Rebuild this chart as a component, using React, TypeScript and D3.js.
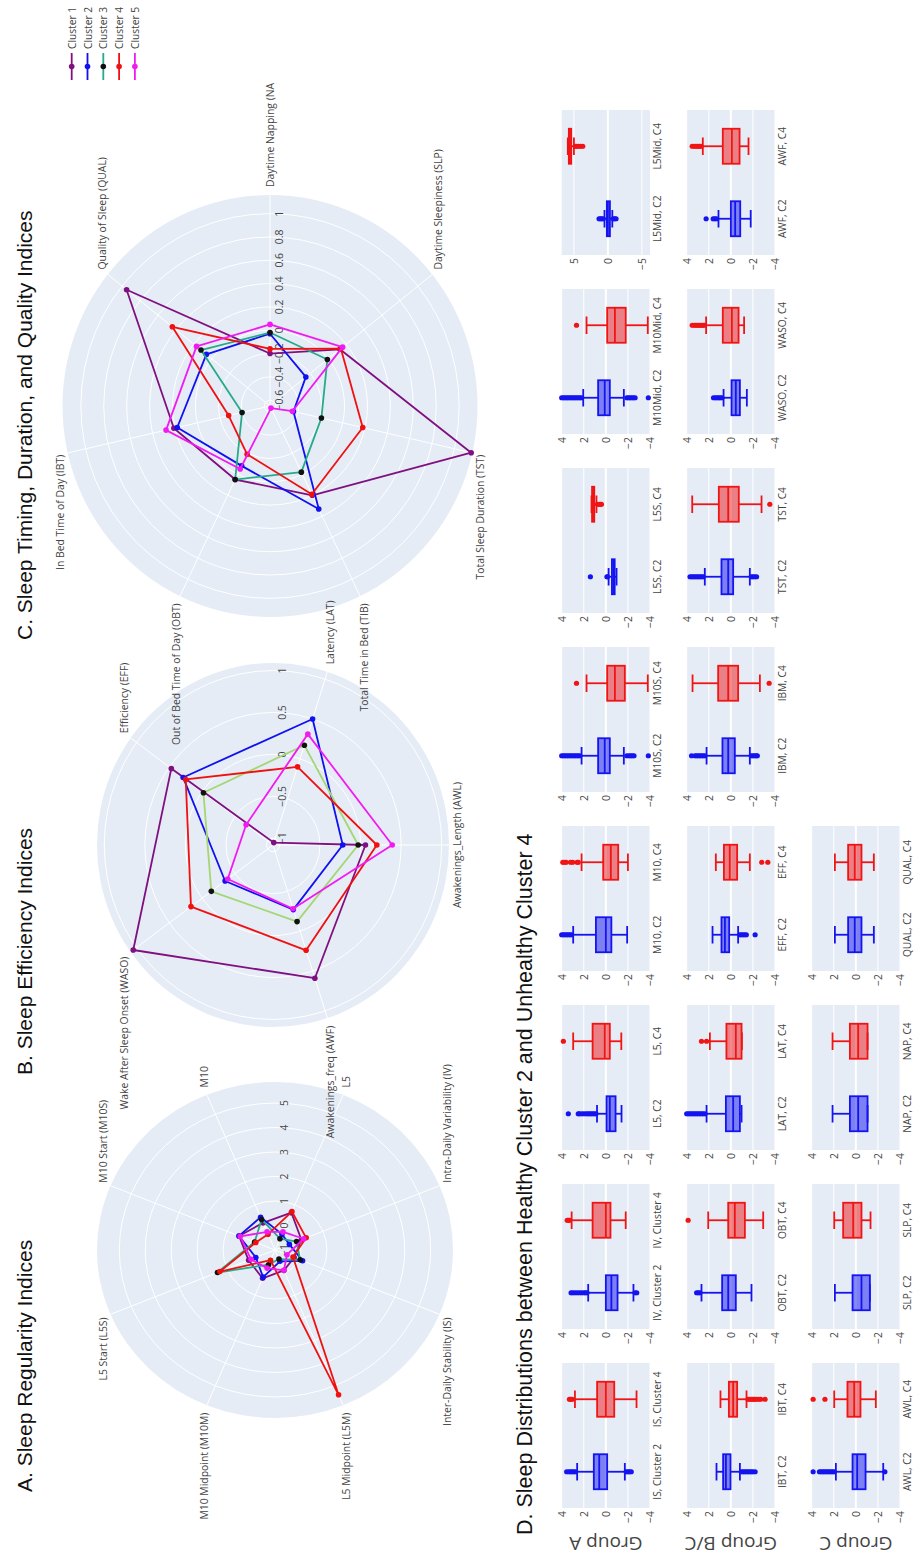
import React from "react";
import * as d3 from "d3";

// Page is portrait; the figure is laid out landscape and turned a quarter turn.
const PAGE_W = 915;
const PAGE_H = 1558;

const FONT = "'Open Sans', 'Noto Sans', sans-serif";
const TITLE_FONT = "'Liberation Sans', Arial, sans-serif";
const TEXT = "#444";
const PANEL_BG = "#E5ECF6";

// ---- clusters ----
const clusterNames = ["Cluster 1", "Cluster 2", "Cluster 3", "Cluster 4", "Cluster 5"];
const clusterLineColors = ["#80107f", "#1010f0", "#27aa88", "#f01010", "#f21af2"];
const clusterMarkerColors = ["#80107f", "#1010f0", "#111111", "#f01010", "#f21af2"];
const efficiencyLineColors = ["#80107f", "#1010f0", "#a4d672", "#f01010", "#f21af2"];

// ---- A. Sleep regularity (z-scores per cluster) ----
const regularityAxes = [
  "M10",
  "M10 Start (M10S)",
  "L5 Start (L5S)",
  "M10 Midpoint (M10M)",
  "L5 Midpoint (L5M)",
  "Inter-Daily Stability (IS)",
  "Intra-Daily Variability (IV)",
  "L5",
];
const regularityC1 = [0.2, 0.5, 0.1, 0.25, -0.1, -0.2, 0.1, 0.65];
const regularityC2 = [0.45, 0.5, -0.2, 0.2, -0.5, 0.15, -0.4, -0.3];
const regularityC3 = [0.35, -0.15, 1.4, -0.35, -0.6, 0.05, -0.1, -0.5];
const regularityC4 = [-0.3, -0.2, 1.3, -0.55, 5.4, -0.25, 0.3, 0.7];
const regularityC5 = [-0.2, 0.45, 0.0, -0.2, -0.1, -0.5, 0.2, -0.2];
const regularityTicks = [-1, 0, 1, 2, 3, 4, 5];

// ---- B. Sleep efficiency ----
const efficiencyAxes = [
  "Latency (LAT)",
  "Efficiency (EFF)",
  "Wake After Sleep Onset (WASO)",
  "Awakenings_freq (AWF)",
  "Awakenings_Length (AWL)",
];
const efficiencyC1 = [-1.05, 0.47, 1.05, 0.59, 0.06];
const efficiencyC2 = [0.5, 0.29, -0.35, -0.27, -0.22];
const efficiencyC3 = [0.17, -0.02, -0.14, -0.12, -0.03];
const efficiencyC4 = [-0.1, 0.25, 0.17, 0.24, 0.2];
const efficiencyC5 = [0.31, -0.67, -0.39, -0.28, 0.39];
const efficiencyTicks = [-1, -0.5, 0, 0.5, 1];

// ---- C. Sleep timing, duration and quality ----
const timingAxes = [
  "Daytime Napping (NAP)",
  "Quality of Sleep (QUAL)",
  "In Bed Time of Day (IBT)",
  "Out of Bed Time of Day (OBT)",
  "Total Time in Bed (TIB)",
  "Total Sleep Duration (TST)",
  "Daytime Sleepiness (SLP)",
];
const timingC1 = [-0.2, 0.95, 0.21, 0.05, 0.2, 1.15, 0.13];
const timingC2 = [-0.03, 0.06, 0.18, -0.08, 0.33, -0.44, -0.25];
const timingC3 = [-0.02, 0.12, -0.4, 0.05, -0.02, -0.19, -0.01];
const timingC4 = [-0.16, 0.44, -0.28, -0.19, 0.19, 0.18, 0.14];
const timingC5 = [0.05, 0.17, 0.28, -0.05, -0.63, -0.45, 0.16];
const timingTicks = [-0.6, -0.4, -0.2, 0, 0.2, 0.4, 0.6, 0.8, 1];

// ---- D. Box plots, Cluster 2 vs Cluster 4 ----
const boxRowTitles = ["Group A", "Group B/C", "Group C"];
const boxRow = [0, 0, 0, 0, 0, 0, 0, 0, 1, 1, 1, 1, 1, 1, 1, 1, 2, 2, 2, 2];
const boxCol = [0, 1, 2, 3, 4, 5, 6, 7, 0, 1, 2, 3, 4, 5, 6, 7, 0, 1, 2, 3];
const boxLabelsC2 = [
  "IS, Cluster 2", "IV, Cluster 2", "L5, C2", "M10, C2", "M10S, C2", "L5S, C2", "M10Mid, C2", "L5Mid, C2",
  "IBT, C2", "OBT, C2", "LAT, C2", "EFF, C2", "IBM, C2", "TST, C2", "WASO, C2", "AWF, C2",
  "AWL, C2", "SLP, C2", "NAP, C2", "QUAL, C2",
];
const boxLabelsC4 = [
  "IS, Cluster 4", "IV, Cluster 4", "L5, C4", "M10, C4", "M10S, C4", "L5S, C4", "M10Mid, C4", "L5Mid, C4",
  "IBT, C4", "OBT, C4", "LAT, C4", "EFF, C4", "IBM, C4", "TST, C4", "WASO, C4", "AWF, C4",
  "AWL, C4", "SLP, C4", "NAP, C4", "QUAL, C4",
];
// [lower fence, q1, median, q3, upper fence]
const boxStatsC2 = [
  [-1.72, -0.12, 0.6, 1.09, 2.6],
  [-2.5, -1.06, -0.5, 0.0, 1.6],
  [-1.42, -0.88, -0.36, -0.06, 0.8],
  [-1.93, -0.5, 0.0, 0.9, 2.96],
  [-1.63, -0.36, 0.1, 0.7, 2.2],
  [-0.97, -0.8, -0.7, -0.55, -0.25],
  [-1.63, -0.36, 0.1, 0.7, 2.05],
  [-0.65, -0.3, 0.0, 0.15, 0.5],
  [-0.82, 0.03, 0.45, 0.7, 1.3],
  [-1.87, -0.45, 0.24, 0.79, 2.66],
  [-0.97, -0.82, -0.21, 0.45, 2.2],
  [-0.66, 0.15, 0.54, 0.85, 1.66],
  [-1.72, -0.36, 0.24, 0.76, 2.2],
  [-1.72, -0.21, 0.24, 0.85, 2.36],
  [-1.45, -0.82, -0.45, -0.06, 0.66],
  [-1.8, -0.85, -0.39, 0.0, 1.12],
  [-2.48, -0.88, -0.12, 0.3, 1.81],
  [-1.27, -1.27, -0.51, 0.3, 1.9],
  [-1.06, -1.06, -0.21, 0.54, 2.11],
  [-1.63, -0.51, 0.1, 0.7, 1.9],
];
const boxStatsC4 = [
  [-2.78, -0.76, 0.0, 0.79, 2.8],
  [-1.8, -0.42, 0.0, 1.2, 3.1],
  [-1.4, -0.36, 0.1, 1.2, 2.96],
  [-2.0, -1.12, -0.45, 0.24, 2.2],
  [-3.8, -1.72, -0.82, -0.12, 1.75],
  [0.85, 1.05, 1.15, 1.25, 1.3],
  [-3.8, -1.8, -0.82, -0.12, 1.75],
  [5.0, 5.4, 5.6, 5.75, 5.9],
  [-1.42, -0.57, -0.21, 0.18, 0.94],
  [-2.93, -1.27, -0.36, 0.24, 2.05],
  [-1.0, -0.97, -0.45, 0.4, 1.9],
  [-1.72, -0.57, 0.1, 0.63, 1.36],
  [-2.63, -0.66, 0.24, 1.15, 3.47],
  [-2.78, -0.72, 0.24, 1.09, 3.5],
  [-1.2, -0.7, -0.09, 0.73, 2.24],
  [-1.6, -0.79, -0.09, 0.73, 2.54],
  [-1.81, -0.42, 0.15, 0.76, 1.96],
  [-1.33, -0.51, 0.24, 1.15, 1.96],
  [-1.06, -1.06, -0.21, 0.54, 2.11],
  [-1.63, -0.51, 0.1, 0.7, 1.9],
];
const boxOutliersC2 = [
  [2.75, 2.9, 3.05, 3.2, 3.35, 3.55, -1.85, -2.0, -2.15, -2.3],
  [1.7, 1.85, 2.0, 2.2, 2.4, 2.6, 2.8, 3.0, 3.15, -2.65, -2.8],
  [0.9, 1.05, 1.2, 1.35, 1.5, 1.65, 1.8, 2.0, 2.2, 2.4, 2.5, 3.4],
  [3.1, 3.25, 3.4, 3.55, 3.7, 3.85, 4.0],
  [2.35, 2.5, 2.65, 2.8, 2.95, 3.1, 3.25, 3.4, 3.55, 3.7, 3.85, 4.0, -1.9, -2.1, -2.25, -2.4, -2.55, -3.85],
  [-0.15, -0.1, 1.4],
  [2.2, 2.35, 2.5, 2.65, 2.8, 2.95, 3.1, 3.25, 3.4, 3.55, 3.7, 3.85, 4.0, -1.9, -2.05, -2.2, -2.35, -2.5, -2.65, -3.85],
  [0.7, 0.9, 1.1, 1.3, -0.8, -1.0, -1.2],
  [-0.95, -1.1, -1.25, -1.4, -1.55, -1.7, -1.85, -2.0, -2.2],
  [2.8, 2.95, 3.1],
  [2.35, 2.5, 2.65, 2.8, 2.95, 3.1, 3.25, 3.4, 3.55, 3.7, 3.85, 4.0],
  [-0.8, -0.95, -1.1, -1.25, -1.4, -2.2],
  [2.35, 2.5, 2.65, 2.8, 2.95, 3.1, 3.25, 3.56, -1.85, -2.0, -2.15, -2.3, -2.4],
  [2.5, 2.65, 2.8, 2.95, 3.1, 3.25, 3.4, 3.55, 3.7, -1.85, -2.0, -2.15, -2.33],
  [0.8, 0.95, 1.1, 1.25, 1.4, 1.57],
  [1.3, 1.45, 1.6, 2.24],
  [1.95, 2.1, 2.25, 2.4, 2.55, 2.7, 2.85, 3.0, 3.15, 3.3, 3.87, -2.63],
  [],
  [],
  [],
];
const boxOutliersC4 = [
  [3.05, 3.2, 3.3],
  [3.3, 3.4, 3.5],
  [3.85],
  [2.5, 2.6, 3.0, 3.2, 3.6, 3.75, 3.9],
  [2.66],
  [0.75, 0.6, 0.5, 0.4],
  [2.66],
  [4.8, 4.6, 4.3, 4.0, 3.7],
  [-1.55, -1.7, -1.85, -2.0, -2.15, -2.3, -2.5, -2.7, -3.1],
  [3.87],
  [2.2, 2.66],
  [-2.8, -3.35],
  [-3.47],
  [-3.53],
  [2.4, 2.55, 2.7, 2.85, 3.0, 3.15, 3.3, 3.5],
  [2.7, 2.85, 3.0, 3.15, 3.3, 3.5],
  [2.8, 3.87],
  [],
  [],
  [],
];
const boxTicks = [-4, -2, 0, 2, 4];
const wideBoxTicks = [-5, 0, 5];

const fmt = d3.format("~g");

type PolarProps = {
  layer: "bg" | "fg";
  cx: number;
  cy: number;
  rx: number;
  ry: number;
  domain: [number, number];
  ticks: number[];
  axes: string[];
  rotation: number;
  series: number[][];
  lineColors: string[];
  markerColors: string[];
  clipId?: string;
};

// Draws either the background (disc, grid, spokes) or the foreground
// (tick labels, category labels, traces) of a radar panel.
function PolarPanel(p: PolarProps) {
  const r = d3.scaleLinear().domain(p.domain).range([0, 1]);
  const n = p.axes.length;
  const ang = (i: number) => ((p.rotation + (i * 360) / n) * Math.PI) / 180;
  const pt = (i: number, v: number): [number, number] => {
    const a = ang(i);
    const k = r(v);
    return [p.cx + k * p.rx * Math.cos(a), p.cy - k * p.ry * Math.sin(a)];
  };
  const line = d3.line<[number, number]>().curve(d3.curveLinearClosed);

  if (p.layer === "bg") {
    return (
      <g>
        <ellipse cx={p.cx} cy={p.cy} rx={p.rx} ry={p.ry} fill={PANEL_BG} />
        {p.ticks
          .filter((t) => r(t) > 0.01)
          .map((t) => (
            <ellipse key={t} cx={p.cx} cy={p.cy} rx={r(t) * p.rx} ry={r(t) * p.ry} fill="none" stroke="#fff" strokeWidth={1} />
          ))}
        {p.axes.map((_, i) => {
          const a = ang(i);
          return (
            <line key={i} x1={p.cx} y1={p.cy} x2={p.cx + p.rx * Math.cos(a)} y2={p.cy - p.ry * Math.sin(a)} stroke="#fff" strokeWidth={1} />
          );
        })}
      </g>
    );
  }

  return (
    <g>
      {p.ticks
        .filter((t) => r(t) >= -0.01)
        .map((t) => (
          <text key={t} x={p.cx + r(t) * p.rx} y={p.cy + 9} textAnchor="middle" dominantBaseline="central" fontSize={10.4} fill={TEXT} fontFamily={FONT}>
            {fmt(t)}
          </text>
        ))}
      <g clipPath={p.clipId ? `url(#${p.clipId})` : undefined}>
        {p.axes.map((name, i) => {
          const a = ang(i);
          const c = Math.cos(a);
          const anchor = c > 0.05 ? "start" : c < -0.05 ? "end" : "middle";
          return (
            <text
              key={name}
              x={p.cx + (p.rx + 8) * c}
              y={p.cy - (p.ry + 8) * Math.sin(a)}
              textAnchor={anchor}
              dominantBaseline="central"
              fontSize={10.4}
              fill={TEXT}
              fontFamily={FONT}
            >
              {name}
            </text>
          );
        })}
      </g>
      {p.series.map((vals, s) => {
        const pts = vals.map((v, i) => pt(i, v));
        return (
          <g key={s}>
            <path d={line(pts) || ""} fill="none" stroke={p.lineColors[s]} strokeWidth={1.8} strokeLinejoin="round" />
            {pts.map((q, i) => (
              <circle key={i} cx={q[0]} cy={q[1]} r={2.8} fill={p.markerColors[s]} />
            ))}
          </g>
        );
      })}
    </g>
  );
}

type BoxProps = {
  x0: number;
  y0: number;
  w: number;
  h: number;
  domain: [number, number];
  ticks: number[];
  labels: [string, string];
  stats: [number[], number[]];
  outliers: [number[], number[]];
};

const boxColors = ["#1414f0", "#f01414"];

function BoxPanel(p: BoxProps) {
  const y = d3.scaleLinear().domain(p.domain).range([p.y0 + p.h, p.y0]);
  const x = d3.scaleBand<number>().domain([0, 1]).range([p.x0, p.x0 + p.w]);
  const half = 17.5;
  return (
    <g>
      <rect x={p.x0} y={p.y0} width={p.w} height={p.h} fill={PANEL_BG} />
      {p.ticks.map((t) => (
        <line key={t} x1={p.x0} x2={p.x0 + p.w} y1={y(t)} y2={y(t)} stroke="#fff" strokeWidth={t === 0 ? 2 : 1} />
      ))}
      {p.ticks.map((t) => (
        <text key={"l" + t} x={p.x0 - 3} y={y(t)} textAnchor="end" dominantBaseline="central" fontSize={10.4} fill={TEXT} fontFamily={FONT}>
          {fmt(t)}
        </text>
      ))}
      {[0, 1].map((k) => {
        const cx = (x(k) as number) + x.bandwidth() / 2;
        const [lo, q1, med, q3, hi] = p.stats[k];
        const col = boxColors[k];
        return (
          <g key={k}>
            <line x1={cx} x2={cx} y1={y(lo)} y2={y(q1)} stroke={col} strokeWidth={1.8} />
            <line x1={cx} x2={cx} y1={y(q3)} y2={y(hi)} stroke={col} strokeWidth={1.8} />
            <line x1={cx - half / 2} x2={cx + half / 2} y1={y(lo)} y2={y(lo)} stroke={col} strokeWidth={1.8} />
            <line x1={cx - half / 2} x2={cx + half / 2} y1={y(hi)} y2={y(hi)} stroke={col} strokeWidth={1.8} />
            <rect x={cx - half} y={y(q3)} width={half * 2} height={Math.max(1, y(q1) - y(q3))} fill={col} fillOpacity={0.5} stroke={col} strokeWidth={1.8} />
            <line x1={cx - half} x2={cx + half} y1={y(med)} y2={y(med)} stroke={col} strokeWidth={1.8} />
            {p.outliers[k].map((v, i) => (
              <circle key={i} cx={cx} cy={y(v)} r={2.6} fill={col} />
            ))}
            <text x={cx} y={p.y0 + p.h + 6.5} textAnchor="middle" dominantBaseline="central" fontSize={10.2} fill={TEXT} fontFamily={FONT}>
              {p.labels[k]}
            </text>
          </g>
        );
      })}
    </g>
  );
}

export default function App() {
  // landscape layout
  const colX = d3.range(8).map((c) => 50 + 179 * c);
  const rowY = [561.7, 686.7, 811.7];
  const boxW = 145;
  const boxH = 88.3;

  const regularity = {
    cx: 308,
    cy: 275,
    rx: 168,
    ry: 178,
    domain: [-1, 5.86] as [number, number],
    ticks: regularityTicks,
    axes: regularityAxes,
    rotation: 22.5,
    series: [regularityC1, regularityC2, regularityC3, regularityC4, regularityC5],
    lineColors: clusterLineColors,
    markerColors: clusterMarkerColors,
  };
  const efficiency = {
    cx: 713,
    cy: 273,
    rx: 182,
    ry: 176,
    domain: [-1.08, 1.09] as [number, number],
    ticks: efficiencyTicks,
    axes: efficiencyAxes,
    rotation: -18,
    series: [efficiencyC1, efficiencyC2, efficiencyC3, efficiencyC4, efficiencyC5],
    lineColors: efficiencyLineColors,
    markerColors: clusterMarkerColors,
  };
  const timing = {
    cx: 1152,
    cy: 270,
    rx: 211,
    ry: 207.5,
    domain: [-0.65, 1.16] as [number, number],
    ticks: timingTicks,
    axes: timingAxes,
    rotation: 0,
    series: [timingC1, timingC2, timingC3, timingC4, timingC5],
    lineColors: clusterLineColors,
    markerColors: clusterMarkerColors,
    clipId: "timingLabelClip",
  };

  return (
    <svg width={PAGE_W} height={PAGE_H} style={{ position: "absolute", left: 0, top: 0, background: "#fff" }}>
      <rect width={PAGE_W} height={PAGE_H} fill="#fff" />
      <defs>
        <clipPath id="timingLabelClip" clipPathUnits="userSpaceOnUse">
          <rect x={0} y={0} width={1476} height={915} />
        </clipPath>
      </defs>
      <g transform={`translate(0,${PAGE_H}) rotate(-90)`}>
        {/* panel titles */}
        <text x={66} y={32} fontSize={21} fontFamily={TITLE_FONT} fill="#111">A. Sleep Regularity Indices</text>
        <text x={483} y={32} fontSize={21} fontFamily={TITLE_FONT} fill="#111">B. Sleep Efficiency Indices</text>
        <text x={918} y={32} fontSize={21} fontFamily={TITLE_FONT} fill="#111">C. Sleep Timing, Duration, and Quality Indices</text>
        <text x={23} y={532} fontSize={21.5} fontFamily={TITLE_FONT} fill="#111">
          D. Sleep Distributions between Healthy Cluster 2 and Unhealthy Cluster 4
        </text>

        {/* radar backgrounds first, then labels and traces on top */}
        <PolarPanel layer="bg" {...regularity} />
        <PolarPanel layer="bg" {...efficiency} />
        <PolarPanel layer="bg" {...timing} />
        <PolarPanel layer="fg" {...regularity} />
        <PolarPanel layer="fg" {...efficiency} />
        <PolarPanel layer="fg" {...timing} />

        {/* legend */}
        {clusterNames.map((name, i) => {
          const yy = 71.7 + 15.8 * i;
          return (
            <g key={name}>
              <line x1={1478} x2={1505} y1={yy} y2={yy} stroke={clusterLineColors[i]} strokeWidth={1.8} />
              <circle cx={1491.5} cy={yy} r={2.8} fill={clusterMarkerColors[i]} />
              <text x={1509} y={yy} dominantBaseline="central" fontSize={10.2} fill={TEXT} fontFamily={FONT}>
                {name}
              </text>
            </g>
          );
        })}

        {/* row titles */}
        {boxRowTitles.map((t, i) => (
          <text
            key={t}
            transform={`translate(21,${rowY[i] + boxH / 2}) rotate(-90)`}
            textAnchor="middle"
            fontSize={19}
            fill={TEXT}
            fontFamily={FONT}
          >
            {t}
          </text>
        ))}

        {boxStatsC2.map((_, i) => {
          const wide = boxLabelsC2[i].startsWith("L5Mid");
          return (
            <BoxPanel
              key={i}
              x0={colX[boxCol[i]]}
              y0={rowY[boxRow[i]]}
              w={boxW}
              h={boxH}
              domain={wide ? [-6.2, 6.8] : [-4, 4]}
              ticks={wide ? wideBoxTicks : boxTicks}
              labels={[boxLabelsC2[i], boxLabelsC4[i]]}
              stats={[boxStatsC2[i], boxStatsC4[i]]}
              outliers={[boxOutliersC2[i], boxOutliersC4[i]]}
            />
          );
        })}
      </g>
    </svg>
  );
}
